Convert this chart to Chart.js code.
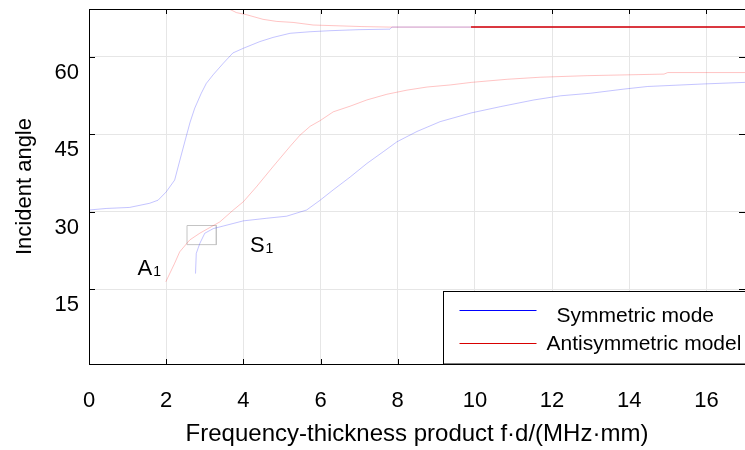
<!DOCTYPE html>
<html>
<head>
<meta charset="utf-8">
<script src="https://cdn.jsdelivr.net/npm/chart.js@4"></script>
<style>
  html, body { margin: 0; padding: 0; background: #fff; }
</style>
</head>
<body>
<canvas id="chart" width="745" height="450"></canvas>
<script>
// axis ticks
const xTicks = [0, 2, 4, 6, 8, 10, 12, 14, 16];
const yTicks = [15, 30, 45, 60];

// symmetric mode S0 (blue, from the left)
const s0X = [0, 0.45, 1.05, 1.57, 1.79, 2.0, 2.22, 2.35, 2.5, 2.62, 2.74, 2.91, 3.04, 3.22, 3.48, 3.73, 4.0, 4.43, 4.77, 5.21, 5.73, 6.25, 7.0, 7.8, 7.85, 17];
const s0Y = [30.3, 30.6, 30.8, 31.6, 32.2, 33.8, 36.1, 39.8, 44.0, 47.3, 50.0, 52.9, 54.8, 56.5, 58.7, 60.7, 61.6, 62.9, 63.7, 64.5, 64.8, 65.0, 65.2, 65.3, 65.7, 65.7];

// antisymmetric mode (red, from the top)
const a0X = [3.55, 3.82, 4.08, 4.51, 4.86, 5.29, 5.81, 7.07, 7.8, 9.9, 17];
const a0Y = [69.5, 68.5, 68.1, 67.2, 66.8, 66.6, 66.1, 65.8, 65.7, 65.7, 65.7];

// A1 (red)
const a1X = [1.99, 2.22, 2.35, 2.61, 2.87, 3.13, 3.39, 3.74, 4.0, 4.34, 4.77, 5.21, 5.47, 5.73, 5.99, 6.33, 6.77, 7.2, 7.72, 8.24, 8.76, 9.36, 9.91, 10.84, 11.7, 12.91, 14.9, 15.0, 17];
const a1Y = [16.4, 20.0, 22.2, 24.5, 25.8, 26.9, 28.0, 30.3, 31.9, 34.8, 38.7, 42.6, 44.8, 46.5, 47.6, 49.3, 50.4, 51.6, 52.7, 53.5, 54.1, 54.5, 55.0, 55.6, 56.0, 56.3, 56.6, 56.9, 56.9];

// S1 (blue)
const s1X = [2.76, 2.78, 2.87, 3.0, 3.22, 3.48, 4.0, 4.6, 5.12, 5.64, 5.99, 6.33, 6.77, 7.2, 7.63, 7.98, 8.5, 9.1, 9.91, 10.66, 11.53, 12.22, 13.0, 13.86, 14.47, 15.94, 17];
const s1Y = [18.0, 21.9, 23.8, 25.8, 26.7, 27.2, 28.2, 28.7, 29.1, 30.3, 32.2, 34.2, 36.7, 39.3, 41.6, 43.5, 45.5, 47.4, 49.1, 50.3, 51.6, 52.4, 52.9, 53.7, 54.2, 54.7, 55.0];

// small gray box around the crossing
const boxX = [2.54, 3.3, 3.3, 2.54, 2.54];
const boxY = [27.3, 27.3, 23.6, 23.6, 27.3];

const legendLabels = ["Symmetric mode", "Antisymmetric model"];
const modeLabels = [
  { main: "A", sub: "1", x: 1.26, y: 17.7 },
  { main: "S", sub: "1", x: 4.17, y: 22.2 },
];

const FONT = "'Liberation Sans', Arial, sans-serif";
const PALE_BLUE = "rgba(60, 60, 255, 0.3)";
const PALE_RED = "rgba(255, 60, 60, 0.3)";
const RED = "#d80000";
const BLUE = "#0000ff";

const toPoints = (xs, ys) => xs.map((v, i) => ({ x: v, y: ys[i] }));

const lineSet = (data, color, extra = {}) => Object.assign({
  data,
  borderColor: color,
  borderWidth: 1,
  pointRadius: 0,
  showLine: true,
  tension: 0,
  fill: false,
}, extra);

// no auto padding for half-labels at the ends, keep the frame where it is
const noPad = s => { s.paddingTop = 0; s.paddingBottom = 0; s.paddingLeft = 0; s.paddingRight = 0; };

const decor = {
  id: "decor",
  afterDatasetsDraw(chart) {
    const { ctx, scales: { x, y } } = chart;
    ctx.save();
    ctx.fillStyle = "#000";
    ctx.textBaseline = "alphabetic";
    modeLabels.forEach(m => {
      const px = x.getPixelForValue(m.x);
      const py = y.getPixelForValue(m.y);
      ctx.font = `22px ${FONT}`;
      ctx.fillText(m.main, px, py);
      const w = ctx.measureText(m.main).width;
      ctx.font = `14px ${FONT}`;
      ctx.fillText(m.sub, px + w + 1, py + 1);
    });
    ctx.restore();
  },
  afterDraw(chart) {
    const { ctx, chartArea: a, scales: { x, y } } = chart;
    const L = Math.round(a.left), R = Math.round(a.right), T = Math.round(a.top), B = Math.round(a.bottom);
    ctx.save();
    ctx.strokeStyle = "#000";
    ctx.lineWidth = 1;
    ctx.beginPath();
    ctx.moveTo(L, T + 0.5); ctx.lineTo(R, T + 0.5);
    ctx.moveTo(L + 0.5, T); ctx.lineTo(L + 0.5, B + 1);
    ctx.moveTo(L, B + 0.5); ctx.lineTo(R, B + 0.5);
    xTicks.slice(1).forEach(v => {
      const px = Math.round(x.getPixelForValue(v)) + 0.5;
      ctx.moveTo(px, T); ctx.lineTo(px, T + 5);
      ctx.moveTo(px, B + 1); ctx.lineTo(px, B - 5);
    });
    yTicks.forEach(v => {
      const py = Math.round(y.getPixelForValue(v)) + 0.5;
      ctx.moveTo(L, py); ctx.lineTo(L + 6, py);
      ctx.moveTo(R, py); ctx.lineTo(R - 6, py);
    });
    ctx.stroke();

    // legend box
    const lx = R - 301.5, ly = B - 72.5;
    ctx.fillStyle = "#fff";
    ctx.fillRect(lx, ly, 310, 72.5);
    ctx.strokeRect(lx, ly, 310, 72.5);
    ctx.lineWidth = 1;
    ctx.strokeStyle = BLUE;
    ctx.beginPath(); ctx.moveTo(lx + 16, ly + 19); ctx.lineTo(lx + 93, ly + 19); ctx.stroke();
    ctx.strokeStyle = RED;
    ctx.beginPath(); ctx.moveTo(lx + 16, ly + 52); ctx.lineTo(lx + 93, ly + 52); ctx.stroke();
    ctx.fillStyle = "#000";
    ctx.font = `21px ${FONT}`;
    ctx.textBaseline = "middle";
    ctx.fillText(legendLabels[0], lx + 113, ly + 25);
    ctx.fillText(legendLabels[1], lx + 103, ly + 53);
    ctx.restore();
  },
};

new Chart(document.getElementById("chart"), {
  type: "scatter",
  data: {
    datasets: [
      lineSet(toPoints(a0X, a0Y), PALE_RED, {
        segment: { borderColor: c => c.p0.parsed.x >= 9.9 ? RED : undefined, borderWidth: c => c.p0.parsed.x >= 9.9 ? 1.5 : undefined },
      }),
      lineSet(toPoints(a1X, a1Y), PALE_RED),
      lineSet(toPoints(s0X, s0Y), PALE_BLUE),
      lineSet(toPoints(s1X, s1Y), PALE_BLUE),
      lineSet(toPoints(boxX, boxY), "#c4c4c4"),
    ],
  },
  plugins: [decor],
  options: {
    responsive: false,
    animation: false,
    layout: { padding: { top: 9, right: 0, left: 0, bottom: 0 } },
    plugins: { legend: { display: false }, tooltip: { enabled: false } },
    scales: {
      x: {
        type: "linear",
        min: 0,
        max: 17,
        afterBuildTicks: s => { s.ticks = xTicks.map(v => ({ value: v })); },
        afterFit: s => { s.height = 86; noPad(s); },
        grid: { color: "#e6e6e6", drawTicks: false },
        border: { display: false },
        ticks: { padding: 24, color: "#000", font: { family: FONT, size: 22 } },
        title: {
          display: true,
          text: "Frequency-thickness product f·d/(MHz·mm)",
          color: "#000",
          font: { family: FONT, size: 24 },
          padding: { top: 0, bottom: 1 },
        },
      },
      y: {
        type: "linear",
        min: 0.5,
        max: 69.2,
        afterBuildTicks: s => { s.ticks = yTicks.map(v => ({ value: v })); },
        afterFit: s => { s.width = 89; noPad(s); },
        grid: { color: "#e6e6e6", drawTicks: false },
        border: { display: false },
        ticks: { padding: 10, labelOffset: 16, color: "#000", font: { family: FONT, size: 22 } },
        title: {
          display: true,
          text: "Incident angle",
          color: "#000",
          font: { family: FONT, size: 22 },
          padding: { top: 12, bottom: 0 },
        },
      },
    },
  },
});
</script>
</body>
</html>
